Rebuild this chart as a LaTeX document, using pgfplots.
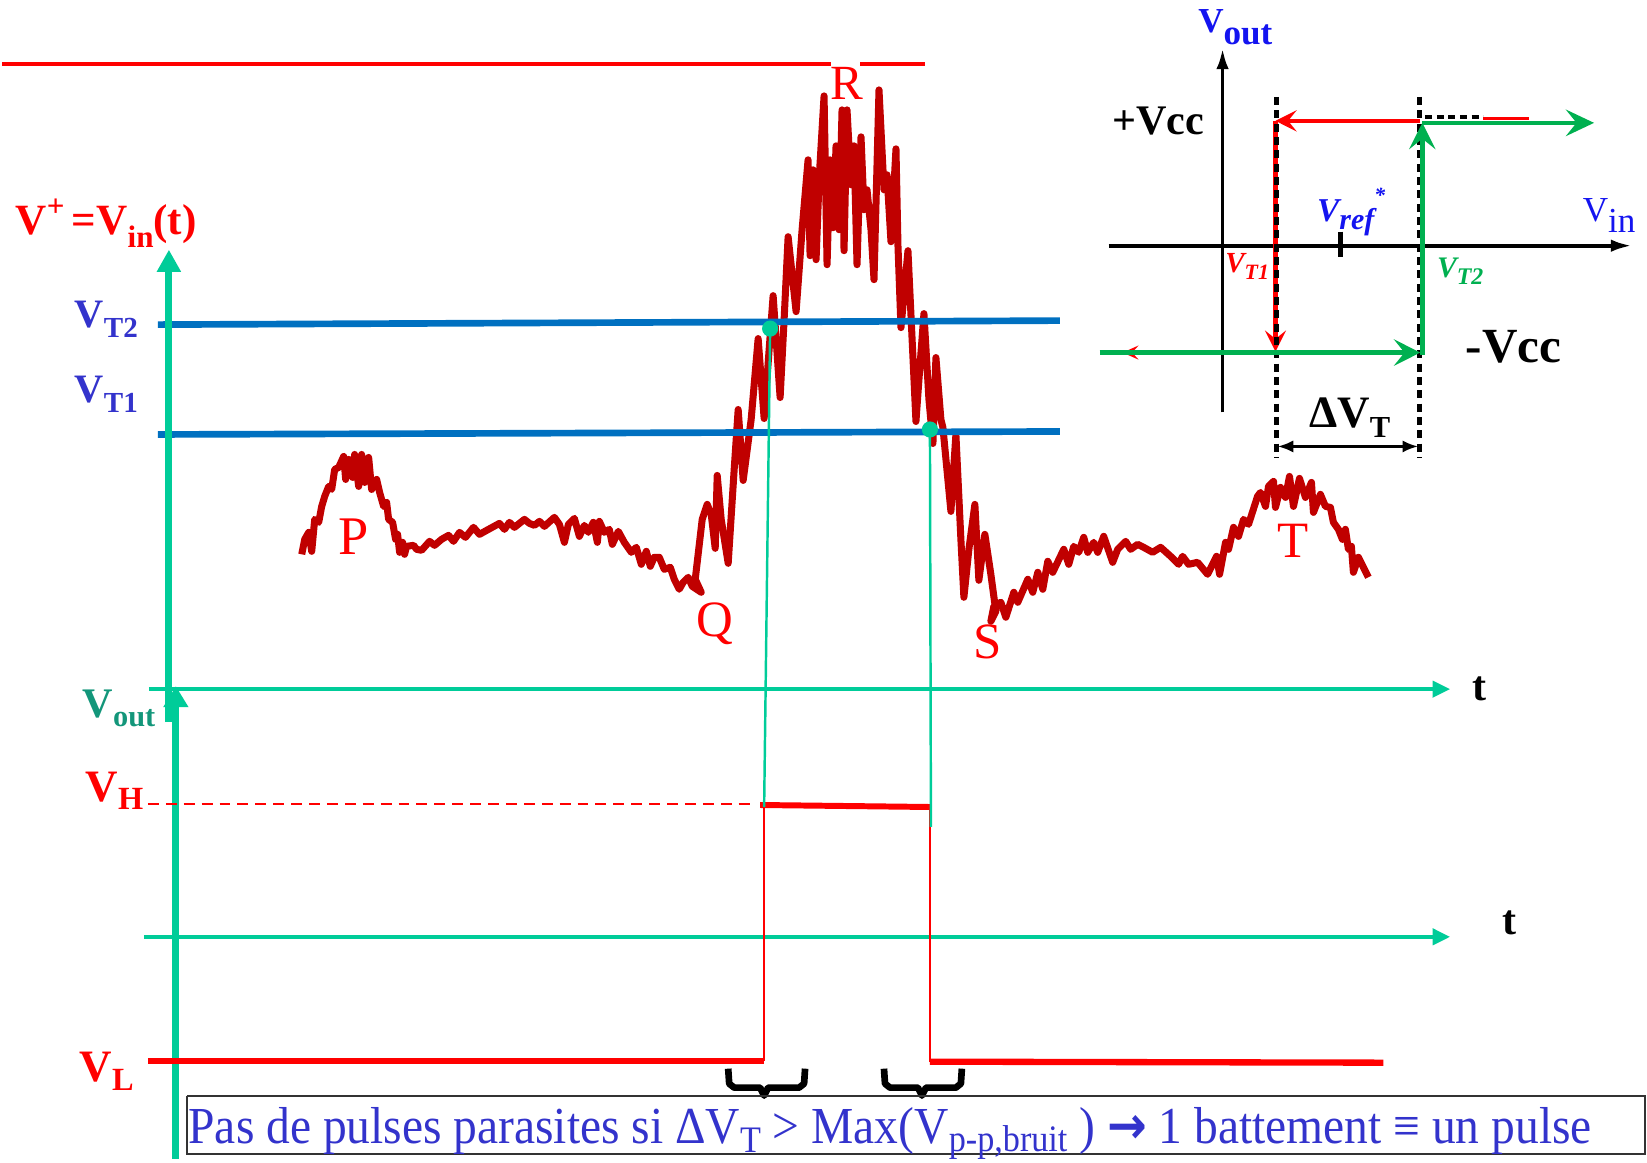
\documentclass[border=0pt]{standalone}
\usepackage{pgfplots}
\pgfplotsset{compat=1.18}
\usetikzlibrary{arrows.meta}
\usepackage{graphicx}
\usepackage{fontspec}
\setmainfont{Liberation Serif}
\newfontfamily\dejavu{DejaVu Sans}
\definecolor{ecg}{HTML}{C00000}
\definecolor{tealax}{HTML}{00CC99}
\definecolor{tealdk}{HTML}{13967A}
\definecolor{vtblue}{HTML}{0070C0}
\definecolor{lblblue}{HTML}{3333CC}
\definecolor{igreen}{HTML}{00B050}
\definecolor{iblue}{HTML}{1414F0}
\definecolor{myred}{HTML}{FF0000}
\newcommand{\lo}[3][0.72]{\raisebox{#2}{\scalebox{#1}{#3}}}
\begin{document}
\begin{tikzpicture}
\begin{axis}[
  width=164.7mm, height=116.3mm, scale only axis,
  xmin=0, xmax=1647, ymin=0, ymax=1163, y dir=reverse,
  hide axis, clip=false,
]
\addplot[draw=none] coordinates {(0,0) (1647,1163)};
% top red line (R level)
\addplot[myred, line width=1.2pt] coordinates {(0,64) (830,64)};
\addplot[myred, line width=1.2pt] coordinates {(859,64) (924,64)};
% ECG trace
\addplot[ecg, line width=2pt, line join=round] coordinates {
(300,555) (303,540) (307,533) (310,552) (313,520) (317,523) (320,507) (323,497) (327,487) (330,490)
(333,470) (337,468) (342,457) (344,480) (347,460) (351,478) (353,455) (357,487) (360,455) (363,483)
(367,458) (370,490) (375,480) (378,493) (382,507) (385,503) (387,520) (391,523) (394,540) (396,535)
(398,553) (401,543) (403,555) (405,547) (412,546) (415,550) (420,551) (428,542) (433,546) (440,540)
(447,536) (452,542) (458,533) (464,538) (472,528) (478,535) (487,530) (498,524) (503,530) (508,523)
(513,528) (523,520) (528,524) (533,526) (538,522) (543,527) (553,518) (558,525) (563,543) (567,525)
(573,519) (578,537) (583,526) (587,533) (592,523) (596,543) (598,522) (603,533) (608,530) (611,545)
(617,532) (623,543) (630,553) (635,548) (640,565) (645,552) (649,567) (653,558) (658,558) (663,570)
(669,568) (673,580) (678,590) (682,583) (687,578) (691,587) (700,593) (694,580)
(701,520) (706,505) (710,515) (714,549) (716,476) (720,520) (727,564) (733,470) (737,410) (742,481)
(750,420) (757,339) (763,419) (768,350) (772,296) (779,398) (783,320) (787,237) (795,312) (801,230)
(807,160) (809,256) (812,170) (815,260) (818,180) (823,96) (826,265) (829,160) (832,228) (835,146)
(838,230) (841,110) (843,251) (846,110) (850,185) (853,146) (856,265) (860,137) (863,210) (866,190)
(870,230) (873,280) (878,90) (883,190) (886,175) (890,242) (895,149) (897,246) (900,328) (907,251)
(915,422) (918,380) (923,314) (928,400) (932,444) (935,358) (940,420) (942,428) (946,470) (950,512)
(955,435) (960,540) (963,598) (968,550) (974,505) (978,581) (984,535) (990,575) (995,612) (990,622)
(993,607) (1000,603) (1005,618) (1013,593) (1017,603) (1027,580) (1032,593) (1037,573) (1042,590) (1047,562)
(1052,573) (1063,550) (1068,565) (1073,547) (1078,553) (1083,538) (1087,553) (1093,543) (1097,553) (1103,537)
(1112,563) (1117,550) (1125,542) (1130,550) (1137,545) (1143,548) (1152,553) (1160,548) (1170,557) (1178,565)
(1182,557) (1188,565) (1197,563) (1207,575) (1212,565) (1216,557) (1219,575) (1225,543) (1228,550) (1233,528)
(1238,537) (1243,520) (1248,525) (1257,497) (1260,493) (1265,507) (1268,487) (1273,482) (1275,508) (1280,488)
(1285,498) (1289,477) (1293,507) (1299,479) (1305,498) (1311,483) (1313,513) (1320,495) (1325,507) (1330,508)
(1333,523) (1338,530) (1342,540) (1345,530) (1348,550) (1351,547) (1353,573) (1358,558) (1363,568) (1368,578)
};
% threshold lines
\addplot[vtblue, line width=1.9pt] coordinates {(156,325) (1059,321)};
\addplot[vtblue, line width=1.9pt] coordinates {(156,435) (1059,432)};
% axes (teal)
\addplot[tealax, line width=2pt, -{Triangle[length=6.3pt,width=6.5pt]}] coordinates {(167,723) (167,250)};
\addplot[tealax, line width=1.3pt, -{Triangle[length=5pt,width=4.5pt]}] coordinates {(147,690) (1450,690)};
\addplot[tealax, line width=1.3pt, -{Triangle[length=5pt,width=4.5pt]}] coordinates {(142,938) (1450,938)};
\addplot[tealax, line width=2pt, -{Triangle[length=6pt,width=6.8pt]}] coordinates {(174,1160) (174,687)};
% output levels
\addplot[myred, line width=0.85pt, dash pattern=on 3.1pt off 2pt] coordinates {(146,805) (753,805)};
\addplot[myred, line width=1.7pt] coordinates {(759,806) (929,808)};
\addplot[myred, line width=0.6pt] coordinates {(763,806) (763,1062)};
\addplot[myred, line width=0.6pt] coordinates {(929,808) (929,1063)};
\addplot[myred, line width=1.8pt] coordinates {(146,1062) (763,1062)};
\addplot[myred, line width=1.8pt] coordinates {(929,1063) (1383,1064)};
% projection lines
\addplot[tealax, line width=0.7pt] coordinates {(769,329) (763,808)};
\addplot[tealax, line width=0.7pt] coordinates {(929,430) (930,828)};
\addplot[tealax, only marks, mark=*, mark size=2.1pt] coordinates {(769,329) (929,430)};
% braces
\addplot[black, line width=1.9pt, line join=round] coordinates {(727,1070) (728,1085) (733,1089) (759,1089) (763,1097) (767,1089) (798,1089) (803,1085) (804,1070)};
\addplot[black, line width=1.9pt, line join=round] coordinates {(883,1070) (884,1085) (889,1089) (917,1089) (921,1097) (925,1089) (955,1089) (960,1085) (961,1070)};
% text box
\addplot[black!80, line width=0.6pt] coordinates {(185,1097) (1645,1097) (1645,1155) (185,1155) (185,1097)};
% ---- inset ----
\addplot[black, line width=1.1pt, -{Latex[length=6pt,width=3.5pt]}] coordinates {(1108,246) (1632,246)};
\addplot[black, line width=1.1pt, -{Latex[length=6pt,width=3.5pt]}] coordinates {(1222,413) (1222,48)};
\addplot[black, line width=1.4pt] coordinates {(1340,232) (1340,257)};
\addplot[black, line width=1pt, dash pattern=on 2pt off 1.3pt] coordinates {(1425,117) (1483,117)};
\addplot[myred, line width=0.9pt] coordinates {(1483,119) (1529,119)};
\addplot[black, line width=0.9pt, {Latex[length=4.5pt,width=3.5pt]}-{Latex[length=4.5pt,width=3.5pt]}] coordinates {(1277,447) (1418,447)};
\addplot[myred, line width=1.2pt, -{Stealth[length=6pt,width=6pt,inset=2.4pt]}] coordinates {(1420,121) (1275,121)};
\addplot[myred, line width=1.2pt, -{Stealth[length=6pt,width=6pt,inset=2.4pt]}] coordinates {(1275,121) (1275,352)};
\addplot[myred, line width=0.8pt, -{Stealth[length=4.5pt,width=4pt,inset=1.8pt]}] coordinates {(1150,353) (1122,353)};
\addplot[black, line width=1.4pt, dash pattern=on 2.3pt off 1.5pt] coordinates {(1276,97) (1276,458)};
\addplot[black, line width=1.4pt, dash pattern=on 2.3pt off 1.5pt] coordinates {(1419,97) (1419,458)};
\addplot[igreen, line width=1.3pt, -{Stealth[length=7.5pt,width=7.5pt,inset=3pt]}] coordinates {(1099,353) (1420,353)};
\addplot[igreen, line width=1.3pt, -{Stealth[length=7.5pt,width=7.5pt,inset=3pt]}] coordinates {(1422,355) (1422,123)};
\addplot[igreen, line width=1.3pt, -{Stealth[length=8pt,width=7.5pt,inset=3pt]}] coordinates {(1422,123) (1594,123)};
% ---- labels ----
\node[anchor=base west, inner sep=0pt, text=myred, font=\fontsize{12.3}{14}\selectfont\bfseries] at (axis cs:13,235) {V\raisebox{0.42em}{\scalebox{0.72}{+}}\,=V\lo{-0.3em}{in}(t)};
\node[anchor=base west, inner sep=0pt, text=lblblue, font=\fontsize{11.5}{13}\selectfont\bfseries] at (axis cs:72,328) {V\lo{-0.25em}{T2}};
\node[anchor=base west, inner sep=0pt, text=lblblue, font=\fontsize{11.5}{13}\selectfont\bfseries] at (axis cs:72,403) {V\lo{-0.25em}{T1}};
\node[anchor=base west, inner sep=0pt, text=tealdk, font=\fontsize{12}{14}\selectfont\bfseries] at (axis cs:80,718) {V\lo[0.72]{-0.22em}{out}};
\node[anchor=base west, inner sep=0pt, text=myred, font=\fontsize{12.8}{14}\selectfont\bfseries] at (axis cs:83,802) {V\lo{-0.2em}{H}};
\node[anchor=base west, inner sep=0pt, text=myred, font=\fontsize{12.8}{14}\selectfont\bfseries] at (axis cs:77,1083) {V\lo{-0.2em}{L}};
\node[font=\fontsize{12}{14}\selectfont\bfseries] at (axis cs:1479,690) {t};
\node[font=\fontsize{12}{14}\selectfont\bfseries] at (axis cs:1509,924) {t};
\node[text=myred, font=\fontsize{15.5}{17}\selectfont] at (axis cs:352,537) {P};
\node[text=myred, font=\fontsize{14.5}{16}\selectfont] at (axis cs:714,625) {Q};
\node[text=myred, font=\fontsize{14}{16}\selectfont] at (axis cs:846,83) {R};
\node[text=myred, font=\fontsize{14.5}{16}\selectfont] at (axis cs:987,643) {S};
\node[text=myred, font=\fontsize{14.5}{16}\selectfont] at (axis cs:1293,541) {T};
% inset labels
\node[anchor=base west, inner sep=0pt, text=iblue, font=\fontsize{10}{12}\selectfont\bfseries] at (axis cs:1197,33) {V\raisebox{-3.4pt}{out}};
\node[anchor=base west, inner sep=0pt, font=\fontsize{12}{14}\selectfont\bfseries] at (axis cs:1111,135) {+Vcc};
\node[anchor=base west, inner sep=0pt, font=\fontsize{14}{16}\selectfont\bfseries] at (axis cs:1465,363) {-Vcc};
\node[anchor=base west, inner sep=0pt, text=iblue, font=\fontsize{10}{11}\selectfont] at (axis cs:1582,222) {V\raisebox{-3pt}{in}};
\node[anchor=base west, inner sep=0pt, text=iblue, font=\fontsize{9.5}{11}\selectfont\bfseries\itshape] at (axis cs:1316,222) {V\lo[0.9]{-2.2pt}{ref}\raisebox{5.5pt}{\scalebox{0.65}{*}}};
\node[anchor=base west, inner sep=0pt, text=myred, font=\fontsize{8.3}{10}\selectfont\bfseries\itshape] at (axis cs:1224,273) {V\lo[0.75]{-2pt}{T1}};
\node[anchor=base west, inner sep=0pt, text=igreen, font=\fontsize{8.5}{10}\selectfont\bfseries\itshape] at (axis cs:1436,278) {V\lo[0.8]{-2pt}{T2}};
\node[anchor=base west, inner sep=0pt, font=\fontsize{12.8}{14}\selectfont\bfseries] at (axis cs:1308,428) {ΔV\lo[0.68]{-0.22em}{T}};
% bottom text
\node[anchor=base west, inner sep=0pt, text=lblblue] at (axis cs:186,1145) {\resizebox{140.5mm}{3.61mm}{Pas de pulses parasites si ΔV\lo[0.72]{-0.18em}{T} > Max(V\lo[0.72]{-0.15em}{p-p,bruit} ) {\dejavu\bfseries →} 1 battement ≡ un pulse}};
\end{axis}
\end{tikzpicture}
\end{document}
